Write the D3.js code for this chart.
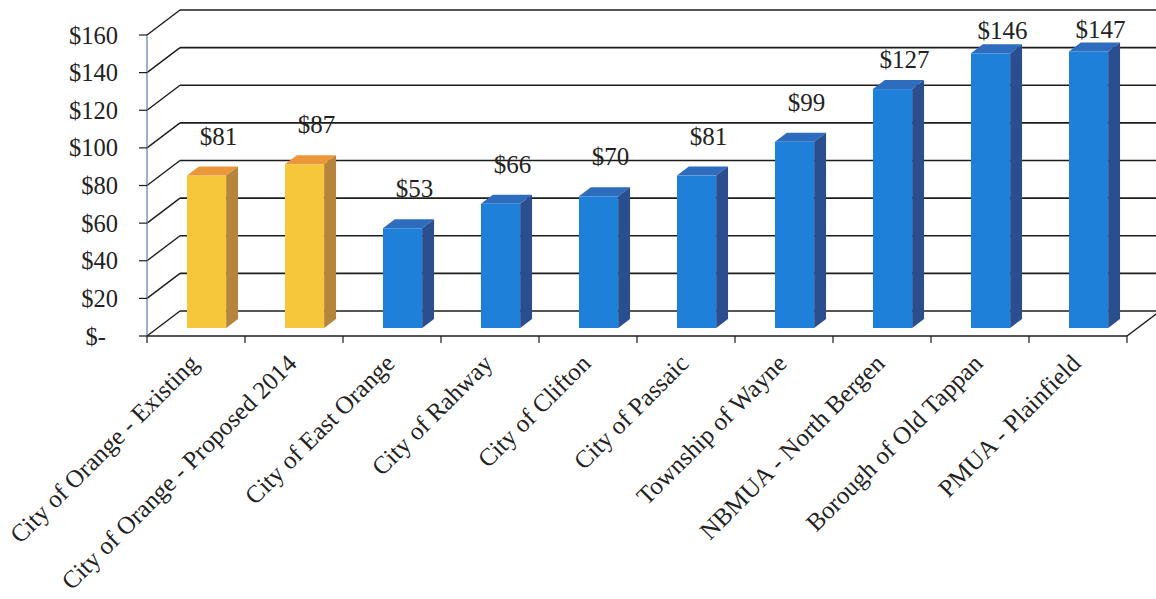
<!DOCTYPE html>
<html>
<head>
<meta charset="utf-8">
<script src="https://cdn.jsdelivr.net/npm/d3@7"></script>
<style>
  html, body { margin: 0; padding: 0; background: #fff; }
  svg { display: block; }
  text { font-family: "Liberation Serif", "Times New Roman", serif; fill: #222; }
</style>
</head>
<body>
<div id="chart"></div>
<script>
// Monthly bill comparison, drawn as Excel-style 3D columns.
const categories = [
  'City of Orange - Existing',
  'City of Orange - Proposed 2014',
  'City of East Orange',
  'City of Rahway',
  'City of Clifton',
  'City of Passaic',
  'Township of Wayne',
  'NBMUA - North Bergen',
  'Borough of Old Tappan',
  'PMUA - Plainfield',
];
const values = [81, 87, 53, 66, 70, 81, 99, 127, 146, 147];
const highlighted = ['City of Orange - Existing', 'City of Orange - Proposed 2014'];
const yTicks = [0, 20, 40, 60, 80, 100, 120, 140, 160];
const yTickLabels = ['$-', '$20', '$40', '$60', '$80', '$100', '$120', '$140', '$160'];

const W = 1156, H = 599;
const DX = 33, DY = 25;          // full depth offset of the back wall
const D0 = 0.32, DD = 0.36;      // bar front depth and bar depth (fraction)

const COL = {
  yellow: { front: '#f6c63b', top: '#ec973a', side: '#b4853a' },
  blue: { front: '#1f80da', top: '#2e6cbe', side: '#2a4e8e' },
  grid: '#1c1c1c',
};

const svg = d3.select('#chart').append('svg')
  .attr('width', W).attr('height', H)
  .attr('viewBox', `0 0 ${W} ${H}`);

const x = d3.scaleBand().domain(categories).range([147, 1127])
  .paddingInner(0.6).paddingOuter(0.3);
const y = d3.scaleLinear().domain([0, 160]).range([336, 35]);
const step = x.step();
const x0 = x.range()[0], x1 = x.range()[1];

// project (screen x, screen y on front plane, depth fraction) -> [x, y]
const P = (px, py, d) => [px + d * DX, py - d * DY];

const walls = svg.append('g');
// back wall gridlines
walls.selectAll('line.back').data(yTicks).join('line')
  .attr('class', 'back')
  .attr('x1', x0 + DX).attr('x2', x1 + DX)
  .attr('y1', (d) => y(d) - DY).attr('y2', (d) => y(d) - DY)
  .attr('stroke', COL.grid).attr('stroke-width', 1.6);
// side wall diagonals
walls.selectAll('line.side').data(yTicks).join('line')
  .attr('class', 'side')
  .attr('x1', x0).attr('x2', x0 + DX)
  .attr('y1', (d) => y(d)).attr('y2', (d) => y(d) - DY)
  .attr('stroke', COL.grid).attr('stroke-width', 1.4);
// floor: right edge
walls.append('line')
  .attr('x1', x1).attr('y1', y(0)).attr('x2', x1 + DX).attr('y2', y(0) - DY)
  .attr('stroke', COL.grid).attr('stroke-width', 1.4);

// vertical value axis
walls.append('line')
  .attr('x1', x0).attr('x2', x0).attr('y1', y(160)).attr('y2', y(0))
  .attr('stroke', '#5a7db0').attr('stroke-width', 1.2);
walls.selectAll('line.ytick').data(yTicks).join('line')
  .attr('class', 'ytick')
  .attr('x1', x0 - 8).attr('x2', x0)
  .attr('y1', (d) => y(d)).attr('y2', (d) => y(d))
  .attr('stroke', COL.grid).attr('stroke-width', 1.2);
svg.append('g').selectAll('text').data(yTicks).join('text')
  .attr('x', (d) => (d === 0 ? 106 : 118))
  .attr('y', (d) => y(d))
  .attr('dy', '0.35em')
  .attr('text-anchor', 'end')
  .style('font-size', '24.5px')
  .text((d, i) => yTickLabels[i]);

// category axis
walls.append('line')
  .attr('x1', x0).attr('x2', x1).attr('y1', y(0)).attr('y2', y(0))
  .attr('stroke', COL.grid).attr('stroke-width', 1.6);
const bounds = d3.range(categories.length + 1).map((i) => x0 + i * step);
walls.selectAll('line.xtick').data(bounds).join('line')
  .attr('class', 'xtick')
  .attr('x1', (d) => d).attr('x2', (d) => d)
  .attr('y1', y(0)).attr('y2', y(0) + 7)
  .attr('stroke', COL.grid).attr('stroke-width', 1.2);
svg.append('g').selectAll('text').data(categories).join('text')
  .attr('transform', (d) => `translate(${x(d) + x.bandwidth() / 2 + 4},365) rotate(-45)`)
  .attr('text-anchor', 'end')
  .style('font-size', '25px')
  .text((d) => d);

// bars
const bw = x.bandwidth();
const bars = svg.append('g').selectAll('g').data(categories).join('g');
const colorOf = (c) => (highlighted.includes(c) ? COL.yellow : COL.blue);
bars.each(function (c, i) {
  const g = d3.select(this);
  const col = colorOf(c);
  const [fx, ft] = P(x(c), y(values[i]), D0);
  const fb = y(0) - D0 * DY;
  const fr = fx + bw;
  const ox = DD * DX, oy = DD * DY;
  g.append('rect').attr('x', fx).attr('y', ft).attr('width', bw).attr('height', fb - ft)
    .attr('fill', col.front);
  g.append('path')
    .attr('d', `M${fx},${ft}L${fr},${ft}L${fr + ox},${ft - oy}L${fx + ox},${ft - oy}Z`)
    .attr('fill', col.top);
  g.append('path')
    .attr('d', `M${fr},${ft}L${fr + ox},${ft - oy}L${fr + ox},${fb - oy}L${fr},${fb}Z`)
    .attr('fill', col.side);
});

// value labels
svg.append('g').selectAll('text').data(categories).join('text')
  .attr('x', (c) => x(c) + bw / 2 + (D0 + DD) * DX)
  .attr('y', (c, i) => {
    const ft = y(values[i]) - D0 * DY;
    return ft - Math.min(31, 13 + (ft - 49) * 0.2);
  })
  .attr('text-anchor', 'middle')
  .style('font-size', '25px')
  .text((c, i) => `$${values[i]}`);
</script>
</body>
</html>
